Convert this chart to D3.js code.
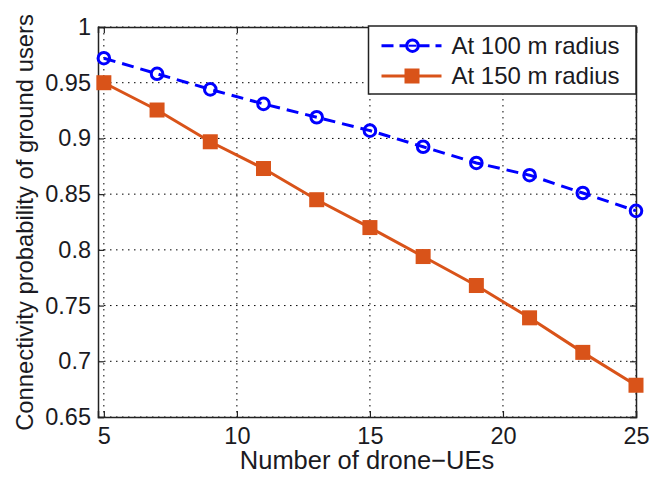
<!DOCTYPE html>
<html>
<head>
<meta charset="utf-8">
<script src="https://cdn.jsdelivr.net/npm/d3@7"></script>
<style>
  body { margin: 0; background: #fff; }
  text { font-family: "Liberation Sans", Arial, sans-serif; fill: #1a1a22; }
</style>
</head>
<body>
<svg width="651" height="477"></svg>
<script>
// Data
const drones = [5, 7, 9, 11, 13, 15, 17, 19, 21, 23, 25];
const radius100 = [0.972, 0.958, 0.944, 0.931, 0.919, 0.907, 0.8925, 0.878, 0.867, 0.851, 0.835];
const radius150 = [0.950, 0.9255, 0.897, 0.873, 0.845, 0.820, 0.794, 0.768, 0.739, 0.708, 0.6785];
const xTicks = [5, 10, 15, 20, 25];
const yTicks = [0.65, 0.7, 0.75, 0.8, 0.85, 0.9, 0.95, 1];
const seriesNames = ["At 100 m radius", "At 150 m radius"];

const svg = d3.select("svg");
const margin = { top: 27, left: 98 };
const innerWidth = 636 - margin.left;
const innerHeight = 417 - margin.top;

const g = svg.append("g")
    .attr("transform", `translate(${margin.left},${margin.top})`);

// Scales
const x = d3.scaleLinear().domain([4.78, 25]).range([0, innerWidth]);
const y = d3.scaleLinear().domain([0.65, 1]).range([innerHeight, 0]);

// Grid (MATLAB style dotted)
g.append("g")
    .selectAll("line")
    .data(xTicks)
    .join("line")
    .attr("x1", d => x(d)).attr("x2", d => x(d))
    .attr("y1", 0).attr("y2", innerHeight)
    .attr("stroke", "#000")
    .attr("stroke-width", 1)
    .attr("stroke-dasharray", "1.5,4.5");

g.append("g")
    .selectAll("line")
    .data(yTicks)
    .join("line")
    .attr("x1", 0).attr("x2", innerWidth)
    .attr("y1", d => y(d)).attr("y2", d => y(d))
    .attr("stroke", "#000")
    .attr("stroke-width", 1)
    .attr("stroke-dasharray", "1.5,4.5");

// Axes (ticks inside, box on)
const fmt = d => String(d);
const xAxis = d3.axisBottom(x).tickValues(xTicks).tickSize(-6).tickPadding(10).tickFormat(fmt);
const yAxis = d3.axisLeft(y).tickValues(yTicks).tickSize(-6).tickPadding(7).tickFormat(fmt);

g.append("g")
    .attr("transform", `translate(0,${innerHeight})`)
    .call(xAxis);
g.append("g").call(yAxis);

g.append("g").call(d3.axisTop(x).tickValues(xTicks).tickSize(-6).tickFormat(""));
g.append("g").attr("transform", `translate(${innerWidth},0)`)
    .call(d3.axisRight(y).tickValues(yTicks).tickSize(-6).tickFormat(""));

g.selectAll(".domain").attr("stroke", "#222").attr("stroke-width", 1.5);
g.selectAll(".tick line").attr("stroke", "#222").attr("stroke-width", 1.2);
g.selectAll(".tick text")
    .style("font-size", "23.5px")
    .style("font-family", "'Liberation Sans', Arial, sans-serif")
    .attr("fill", "#1a1a22");

// Lines
const line = d3.line()
    .x((d, i) => x(drones[i]))
    .y(d => y(d));

const blue = "#0000ff";
const orange = "#d95319";

g.append("path")
    .datum(radius150)
    .attr("fill", "none")
    .attr("stroke", orange)
    .attr("stroke-width", 3)
    .attr("d", line);

g.append("path")
    .datum(radius100)
    .attr("fill", "none")
    .attr("stroke", blue)
    .attr("stroke-width", 3)
    .attr("stroke-dasharray", "12,7")
    .attr("d", line);

// Markers
g.append("g")
    .selectAll("circle")
    .data(radius100)
    .join("circle")
    .attr("cx", (d, i) => x(drones[i]))
    .attr("cy", d => y(d))
    .attr("r", 5.8)
    .attr("fill", "none")
    .attr("stroke", blue)
    .attr("stroke-width", 3);

g.append("g")
    .selectAll("rect")
    .data(radius150)
    .join("rect")
    .attr("x", (d, i) => x(drones[i]) - 7.5)
    .attr("y", d => y(d) - 7.5)
    .attr("width", 15)
    .attr("height", 15)
    .attr("fill", orange);

// Axis labels
svg.append("text")
    .attr("x", margin.left + innerWidth / 2)
    .attr("y", 469)
    .attr("text-anchor", "middle")
    .style("font-size", "25.5px")
    .text("Number of drone\u2212UEs");

svg.append("text")
    .attr("transform", `translate(33,222.5) rotate(-90)`)
    .attr("text-anchor", "middle")
    .style("font-size", "23.8px")
    .text("Connectivity probability of ground users");

// Legend
const legend = svg.append("g").attr("transform", "translate(368.5,26)");
legend.append("rect")
    .attr("width", 267.5).attr("height", 68)
    .attr("fill", "#fff")
    .attr("stroke", "#222")
    .attr("stroke-width", 1.5);

const entries = [
    { name: seriesNames[0], color: blue, dash: true, marker: "circle" },
    { name: seriesNames[1], color: orange, dash: false, marker: "square" }
];

entries.forEach((e, i) => {
    const ly = 19.7 + i * 30.3;
    legend.append("line")
        .attr("x1", 13).attr("x2", 73)
        .attr("y1", ly).attr("y2", ly)
        .attr("stroke", e.color)
        .attr("stroke-width", 3)
        .attr("stroke-dasharray", e.dash ? "12,6" : null);
    if (e.marker === "circle") {
        legend.append("circle")
            .attr("cx", 44).attr("cy", ly).attr("r", 5.8)
            .attr("fill", "#fff").attr("stroke", e.color).attr("stroke-width", 3);
        legend.append("line")
            .attr("x1", 40).attr("x2", 48).attr("y1", ly).attr("y2", ly)
            .attr("stroke", e.color).attr("stroke-width", 2);
    } else {
        legend.append("rect")
            .attr("x", 36).attr("y", ly - 7.5).attr("width", 15).attr("height", 15)
            .attr("fill", e.color);
    }
    legend.append("text")
        .attr("x", 83).attr("y", ly)
        .attr("dy", "0.35em")
        .style("font-size", "24px")
        .text(e.name);
});
</script>
</body>
</html>
